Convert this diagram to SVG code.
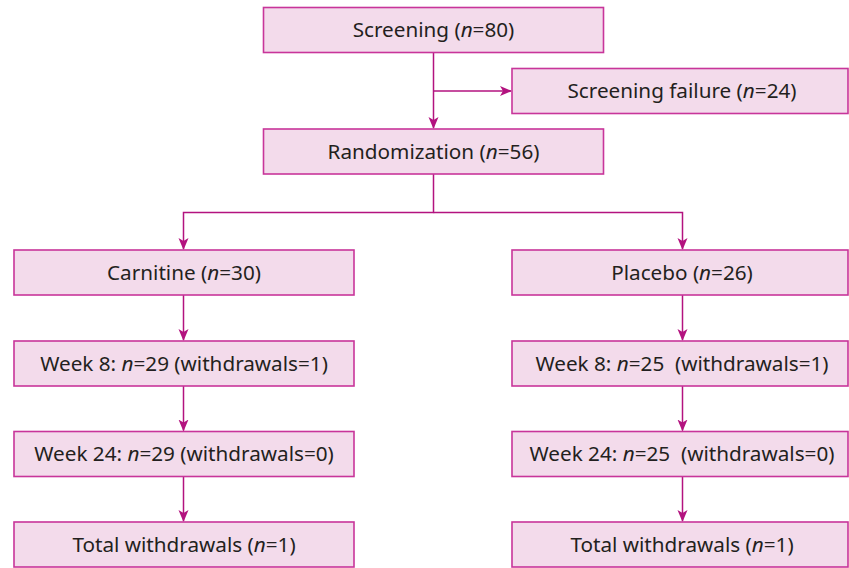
<svg xmlns="http://www.w3.org/2000/svg" width="849" height="568" viewBox="0 0 849 568">
<style>
.box{fill:#f3dbeb;stroke:#c8359a;stroke-width:1.6}
.t{font-family:"Noto Sans","Liberation Sans",sans-serif;font-size:20.7px;fill:#231f20;text-anchor:middle}
.c{fill:none;stroke:#b3137f;stroke-width:1.5}
</style>
<defs>
<marker id="ah" markerWidth="12" markerHeight="12" refX="11" refY="6" orient="auto" markerUnits="userSpaceOnUse">
<path d="M0,1 L12,6 L0,11 L3,6 Z" fill="#b3137f"/>
</marker>
</defs>
<g id="connectors">
<path class="c" d="M433.5,53 V128" marker-end="url(#ah)"/>
<path class="c" d="M433.5,91 H511" marker-end="url(#ah)"/>
<path class="c" d="M433.5,174 V212.5 H183.5 V249" marker-end="url(#ah)"/>
<path class="c" d="M433.5,212.5 H682.5 V249" marker-end="url(#ah)"/>
<path class="c" d="M183.5,295 V340" marker-end="url(#ah)"/>
<path class="c" d="M183.5,386 V430.5" marker-end="url(#ah)"/>
<path class="c" d="M183.5,476.5 V521" marker-end="url(#ah)"/>
<path class="c" d="M682.5,295 V340" marker-end="url(#ah)"/>
<path class="c" d="M682.5,386 V430.5" marker-end="url(#ah)"/>
<path class="c" d="M682.5,476.5 V521" marker-end="url(#ah)"/>
</g>
<g id="screening"><rect class="box" x="263.5" y="7.5" width="340" height="45"/><text class="t" x="433.5" y="37">Screening (<tspan font-style="italic">n</tspan>=80)</text></g>
<g id="failure"><rect class="box" x="512" y="68.5" width="336" height="45"/><text class="t" x="682" y="98">Screening failure (<tspan font-style="italic">n</tspan>=24)</text></g>
<g id="randomization"><rect class="box" x="263.5" y="129" width="340" height="45"/><text class="t" x="433.5" y="158.5">Randomization (<tspan font-style="italic">n</tspan>=56)</text></g>
<g id="carnitine"><rect class="box" x="14" y="250" width="340" height="45"/><text class="t" x="184" y="279.5">Carnitine (<tspan font-style="italic">n</tspan>=30)</text></g>
<g id="placebo"><rect class="box" x="512" y="250" width="336" height="45"/><text class="t" x="682" y="279.5">Placebo (<tspan font-style="italic">n</tspan>=26)</text></g>
<g id="c-week8"><rect class="box" x="14" y="341" width="340" height="45"/><text class="t" x="184" y="370.5">Week 8: <tspan font-style="italic">n</tspan>=29 (withdrawals=1)</text></g>
<g id="p-week8"><rect class="box" x="512" y="341" width="336" height="45"/><text class="t" x="682" y="370.5" xml:space="preserve">Week 8: <tspan font-style="italic">n</tspan>=25  (withdrawals=1)</text></g>
<g id="c-week24"><rect class="box" x="14" y="431.5" width="340" height="45"/><text class="t" x="184" y="461">Week 24: <tspan font-style="italic">n</tspan>=29 (withdrawals=0)</text></g>
<g id="p-week24"><rect class="box" x="512" y="431.5" width="336" height="45"/><text class="t" x="682" y="461" xml:space="preserve">Week 24: <tspan font-style="italic">n</tspan>=25  (withdrawals=0)</text></g>
<g id="c-total"><rect class="box" x="14" y="522" width="340" height="45"/><text class="t" x="184" y="551.5">Total withdrawals (<tspan font-style="italic">n</tspan>=1)</text></g>
<g id="p-total"><rect class="box" x="512" y="522" width="336" height="45"/><text class="t" x="682" y="551.5">Total withdrawals (<tspan font-style="italic">n</tspan>=1)</text></g>
</svg>
